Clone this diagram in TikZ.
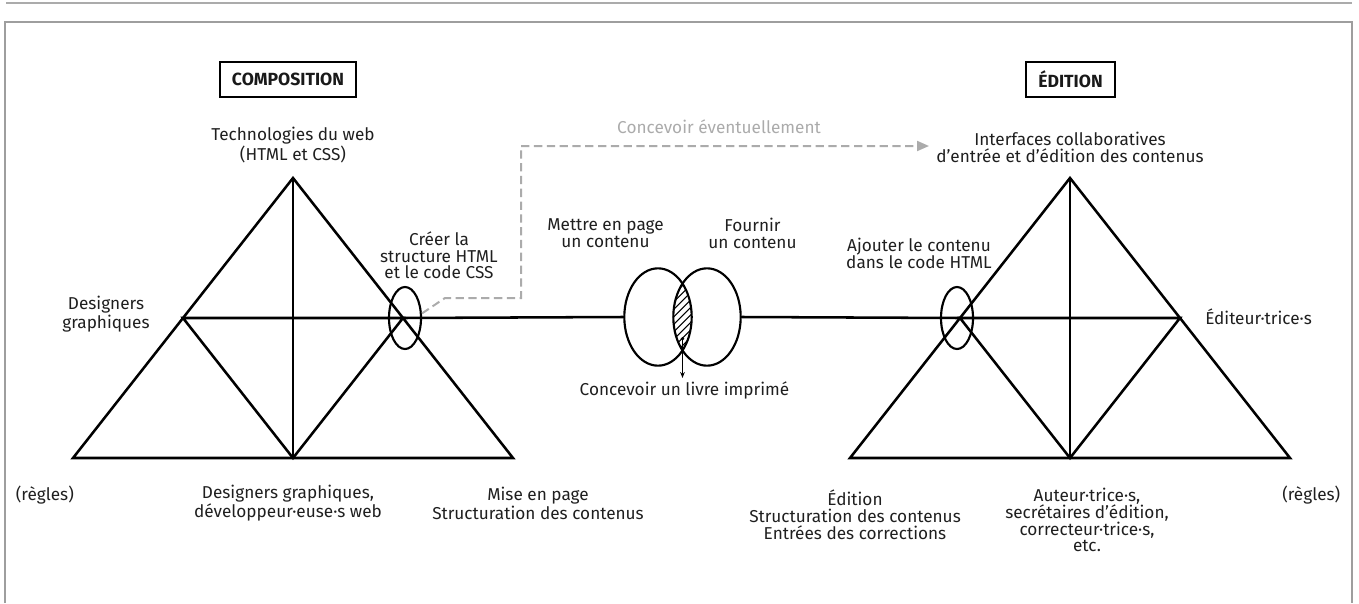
\documentclass[tikz,border=0pt]{standalone}
\usepackage{fontspec}
\setmainfont{Fira Sans}
\usetikzlibrary{arrows.meta,shapes.geometric}
\begin{document}
\begin{tikzpicture}[x=0.75pt,y=-0.75pt,
  tri/.style={line width=1.9pt, line join=miter, line cap=round},
  ellnode/.style={draw, ellipse, line width=1.6pt, inner sep=0pt},
  lbl/.style={font=\fontsize{12.9}{12.6}\selectfont, align=center, inner sep=0pt, text=black!88},
  boxlbl/.style={draw, line width=1.3pt, font=\bfseries\fontsize{13.2}{14}\selectfont, minimum height=26.25pt, inner sep=0pt, text=black!90},
  graydash/.style={draw=black!33, line width=1.5pt, dash pattern=on 6.2pt off 3.4pt},
  frame/.style={draw=black!38, line width=1.5pt}
]
\useasboundingbox (0,0) rectangle (1359,603);
% page frame
\draw[frame, line width=2.2pt, draw=black!33] (6,3) -- (1352,3);
\draw[frame] (5,603) -- (5,22) -- (1352,22) -- (1352,603);

% boxes
\node[boxlbl, minimum width=102pt] (comp) at (288,79.5) {COMPOSITION};
\node[boxlbl, minimum width=66.75pt] (edit) at (1070.5,79.5) {ÉDITION};

% left triangle
\coordinate (LA) at (293,178);
\coordinate (LB) at (73,458);
\coordinate (LC) at (513,458);
\coordinate (LL) at (183,318);
\coordinate (LR) at (403,318);
\coordinate (LM) at (293,458);
\draw[tri] (LA) -- (LB) -- (LC) -- cycle;
\draw[tri] (LL) -- (LR) -- (LM) -- cycle;
\draw[tri] (LA) -- (LM);

% right triangle
\coordinate (RA) at (1070,178);
\coordinate (RB) at (850,458);
\coordinate (RC) at (1290,458);
\coordinate (RL) at (960,318);
\coordinate (RR) at (1180,318);
\coordinate (RM) at (1070,458);
\draw[tri] (RA) -- (RB) -- (RC) -- cycle;
\draw[tri] (RL) -- (RR) -- (RM) -- cycle;
\draw[tri] (RA) -- (RM);

% small ellipses
\node[ellnode, minimum width=24pt, minimum height=46.5pt] (EL) at (405,318) {};
\node[ellnode, minimum width=24pt, minimum height=46.5pt] (ER) at (957,318) {};

% Venn
\begin{scope}
\clip (658,317) ellipse [x radius=33.7, y radius=48.7];
\clip (707,317) ellipse [x radius=33.7, y radius=48.7];
\foreach \i in {-84,-76.5,...,84}
  \draw[line width=0.8pt] (682.5+\i-45,362) -- (682.5+\i+45,272);
\end{scope}
\node[ellnode, minimum width=50.55pt, minimum height=73pt] (VA) at (658,317) {};
\node[ellnode, minimum width=50.55pt, minimum height=73pt] (VB) at (707,317) {};
\coordinate (lensin) at (682.5,337);
\coordinate (lensout) at (682.5,378);
\draw[line width=0.8pt, {Circle[length=2.5pt]}-{Stealth[length=4.5pt,width=3.5pt]}] (lensin) -- (lensout);

% connecting line
\draw[tri] (LR) -- (VA.west);
\draw[tri] (VB.east) -- (RL);

% dashed arrow
\coordinate (d1) at (445,298);
\coordinate (d2) at (521,298);
\coordinate (d3) at (521,146);
\coordinate (d4) at (929,146);
\draw[graydash, -{Triangle[length=9pt,width=7.5pt,fill=black!33]}] (EL.15) -- (d1) -- (d2) -- (d3) -- (d4);
\node[lbl, text=black!33] (evt) at (719,127) {Concevoir éventuellement};

% labels
\node[lbl] (tech) at (293,145) {Technologies du web\\(HTML et CSS)};
\node[lbl] (interf) at (1070,147) {Interfaces collaboratives\\d'entrée et d'édition des contenus};
\node[lbl] (creer) at (439,255.3) {Créer la\\structure HTML\\et le code CSS};
\node[lbl] (mettre) at (605.5,233.5) {Mettre en page\\un contenu};
\node[lbl] (fournir) at (752.5,233.5) {Fournir\\un contenu};
\node[lbl] (ajouter) at (919,253.5) {Ajouter le contenu\\dans le code HTML};
\node[lbl] (desg) at (106,314) {Designers\\graphiques};
\node[lbl, anchor=west] (editeurs) at (1205,317) {Éditeur·trice·s};
\node[lbl] (concevoir) at (684.5,390) {Concevoir un livre imprimé};
\node[lbl, anchor=west] (regL) at (15.6,495) {(règles)};
\node[lbl, anchor=west] (regR) at (1282,495) {(règles)};
\node[lbl] (dg) at (288,503.4) {Designers graphiques,\\développeur·euse·s web};
\node[lbl] (mise) at (538,503.4) {Mise en page\\Structuration des contenus};
\node[lbl] (edtn) at (855,515) {Édition\\Structuration des contenus\\Entrées des corrections};
\node[lbl] (auteur) at (1087,520) {Auteur·trice·s,\\secrétaires d'édition,\\correcteur·trice·s,\\etc.};
\end{tikzpicture}
\end{document}
